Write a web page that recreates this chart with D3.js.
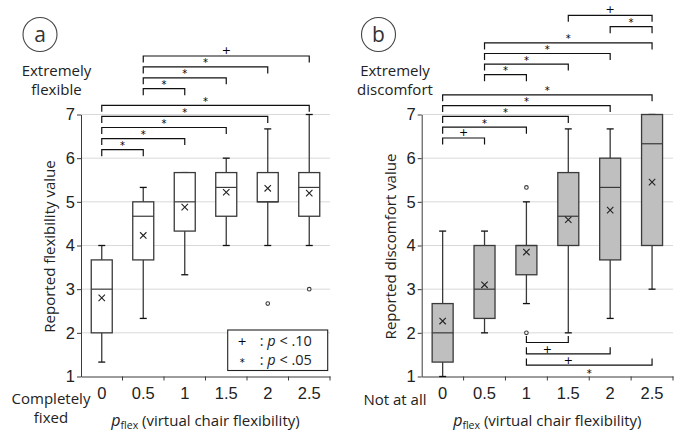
<!DOCTYPE html>
<html>
<head>
<meta charset="utf-8">
<script src="https://cdn.jsdelivr.net/npm/d3@7"></script>
<style>
  body { margin: 0; background: #fff; }
  svg { font-family: "Open Sans", "Noto Sans", sans-serif; }
  .mark { font-family: "DejaVu Sans", sans-serif; }
</style>
</head>
<body>
<svg id="chart" width="689" height="440"></svg>
<script>
// p_flex levels shared by both panels
const flexLevels = ["0", "0.5", "1", "1.5", "2", "2.5"];
const yTicks = [1, 2, 3, 4, 5, 6, 7];

// (a) reported flexibility
const flexLow    = [1.33, 2.33, 3.33, 4.00, 4.00, 4.00];
const flexQ1     = [2.00, 3.67, 4.33, 4.67, 5.00, 4.67];
const flexMedian = [3.00, 4.67, 5.00, 5.33, 5.00, 5.33];
const flexQ3     = [3.67, 5.00, 5.67, 5.67, 5.67, 5.67];
const flexHigh   = [4.00, 5.33, 5.67, 6.00, 6.67, 7.00];
const flexMean   = [2.80, 4.23, 4.88, 5.22, 5.31, 5.20];
const flexOut    = [[], [], [], [], [2.67], [3.00]];

// (b) reported discomfort
const discLow    = [1.00, 2.00, 2.67, 2.00, 2.33, 3.00];
const discQ1     = [1.33, 2.33, 3.33, 4.00, 3.67, 4.00];
const discMedian = [2.00, 3.00, 4.00, 4.67, 5.33, 6.33];
const discQ3     = [2.67, 4.00, 4.00, 5.67, 6.00, 7.00];
const discHigh   = [4.33, 4.33, 5.00, 6.67, 6.67, 7.00];
const discMean   = [2.27, 3.10, 3.85, 4.59, 4.81, 5.45];
const discOut    = [[], [], [5.33, 2.00], [], [], []];

// significance brackets [from, to, mark], grouped in stacks
const flexSig = [
  [["0", "0.5", "*"], ["0", "1", "*"], ["0", "1.5", "*"], ["0", "2", "*"], ["0", "2.5", "*"]],
  [["0.5", "1", "*"], ["0.5", "1.5", "*"], ["0.5", "2", "*"], ["0.5", "2.5", "+"]]
];
const discSig = [
  [["0", "0.5", "+"], ["0", "1", "*"], ["0", "1.5", "*"], ["0", "2", "*"], ["0", "2.5", "*"]],
  [["0.5", "1", "*"], ["0.5", "1.5", "*"], ["0.5", "2", "*"], ["0.5", "2.5", "*"]],
  [["2", "2.5", "*"], ["1.5", "2.5", "+"]]
];
const discSigBelow = [["1", "1.5", "+"], ["1", "2", "+"], ["1", "2.5", "*"]];

const svg = d3.select("#chart");
const plotTop = 114.5, plotBottom = 376.5;
const y = d3.scaleLinear().domain([1, 7]).range([plotBottom, plotTop]);
const ink = "#3a3a3a";

function stats(low, q1, med, q3, high, mean, out) {
  return flexLevels.map((k, i) => ({ k, low: low[i], q1: q1[i], med: med[i], q3: q3[i], high: high[i], mean: mean[i], out: out[i] }));
}

function drawBracket(g, x, b, yy, below) {
  const x1 = x(b[0]) + x.bandwidth() / 2, x2 = x(b[1]) + x.bandwidth() / 2;
  const t = below ? -6.5 : 6.5;
  g.append("path")
    .attr("d", `M${x1},${yy + t}V${yy}H${x2}V${yy + t}`)
    .attr("fill", "none").attr("stroke", "#111").attr("stroke-width", 1.2);
  g.append("text")
    .attr("class", "mark")
    .attr("x", (x1 + x2) / 2)
    .attr("y", below ? yy + (b[2] === "*" ? 11.5 : 10) : yy - (b[2] === "*" ? 0.5 : 2))
    .attr("text-anchor", "middle")
    .style("font-size", b[2] === "*" ? "10px" : "11px")
    .attr("fill", "#000")
    .text(b[2]);
}

function drawPanel(p) {
  const g = svg.append("g");
  const x = d3.scaleBand().domain(flexLevels).range([p.x0, p.x1]);
  const bw = 21, cap = 7;

  // grid
  g.selectAll(".grid").data(yTicks.slice(1)).enter().append("line")
    .attr("x1", p.x0).attr("x2", p.x1)
    .attr("y1", d => y(d)).attr("y2", d => y(d))
    .attr("stroke", "#d9d9d9").attr("stroke-width", 1);

  // y axis
  const ya = g.append("g").attr("transform", `translate(${p.x0},0)`)
    .call(d3.axisLeft(y).tickValues(yTicks).tickFormat(d3.format("d")).tickSize(4).tickSizeOuter(0).tickPadding(2));
  ya.selectAll("text").style("font-size", "16.5px").attr("fill", "#222");
  ya.selectAll("line, path").attr("stroke", ink);

  // x axis
  const xa = g.append("g").attr("transform", `translate(0,${plotBottom})`)
    .call(d3.axisBottom(x).tickSize(0).tickSizeOuter(0).tickPadding(11));
  xa.selectAll("text").style("font-size", "16.5px").attr("fill", "#222");
  xa.select(".domain").attr("stroke", ink);
  g.selectAll(".xtick").data(flexLevels).enter().append("line")
    .attr("x1", d => x(d) + x.bandwidth()).attr("x2", d => x(d) + x.bandwidth())
    .attr("y1", plotBottom).attr("y2", plotBottom + 4)
    .attr("stroke", ink);

  // boxes
  const box = g.selectAll(".box").data(p.data).enter().append("g")
    .attr("transform", d => `translate(${x(d.k) + x.bandwidth() / 2},0)`);
  box.append("line").attr("y1", d => y(d.q3)).attr("y2", d => y(d.high)).attr("stroke", ink).attr("stroke-width", 1.3);
  box.append("line").attr("y1", d => y(d.q1)).attr("y2", d => y(d.low)).attr("stroke", ink).attr("stroke-width", 1.3);
  box.append("line").attr("x1", -cap / 2).attr("x2", cap / 2).attr("y1", d => y(d.high)).attr("y2", d => y(d.high)).attr("stroke", "#111").attr("stroke-width", 1.3);
  box.append("line").attr("x1", -cap / 2).attr("x2", cap / 2).attr("y1", d => y(d.low)).attr("y2", d => y(d.low)).attr("stroke", "#111").attr("stroke-width", 1.3);
  box.append("rect")
    .attr("x", -bw / 2).attr("width", bw)
    .attr("y", d => y(d.q3)).attr("height", d => y(d.q1) - y(d.q3))
    .attr("fill", p.fill).attr("stroke", ink).attr("stroke-width", 1.3);
  box.append("line").attr("x1", -bw / 2).attr("x2", bw / 2).attr("y1", d => y(d.med)).attr("y2", d => y(d.med)).attr("stroke", ink).attr("stroke-width", 1.2);
  box.append("path")
    .attr("d", d => `M-3.2,${y(d.mean) - 3.2}l6.4,6.4M3.2,${y(d.mean) - 3.2}l-6.4,6.4`)
    .attr("stroke", "#222").attr("stroke-width", 1.1);
  box.each(function (d) {
    d3.select(this).selectAll("circle").data(d.out).enter().append("circle")
      .attr("cy", v => y(v)).attr("r", 1.8)
      .attr("fill", "#fff").attr("stroke", ink).attr("stroke-width", 1.1);
  });

  // significance brackets
  p.sig.forEach((grp, gi) => {
    grp.forEach((b, i) => drawBracket(g, x, b, p.sigBase[gi] - i * p.sigStep[gi], false));
  });
  (p.sigBelow || []).forEach((b, i) => drawBracket(g, x, b, p.belowBase + i * 11.3, true));

  // y title
  g.append("text")
    .attr("transform", `translate(${p.titleX},${(plotTop + plotBottom) / 2 + 1}) rotate(-90)`)
    .attr("text-anchor", "middle").style("font-size", "15px").attr("fill", "#222")
    .text(p.yTitle);

  // x title
  const xt = g.append("text")
    .attr("x", (p.x0 + p.x1) / 2).attr("y", 426)
    .attr("text-anchor", "middle").style("font-size", "15px").attr("fill", "#222");
  xt.append("tspan").style("font-style", "italic").style("font-size", "16px").text("p");
  xt.append("tspan").attr("dy", 3).style("font-size", "10.5px").text("flex");
  xt.append("tspan").attr("dy", -3).text(" (virtual chair flexibility)");

  // end labels
  p.topLabel.forEach((t, i) => g.append("text")
    .attr("x", p.labelX).attr("y", 75.5 + i * 19)
    .attr("text-anchor", "middle").style("font-size", "15px").attr("fill", "#222").text(t));
  p.bottomLabel.forEach((t, i) => g.append("text")
    .attr("x", p.bottomX).attr("y", p.bottomY + i * 19)
    .attr("text-anchor", "middle").style("font-size", "15px").attr("fill", "#222").text(t));

  // panel letter
  g.append("circle").attr("cx", p.letterX).attr("cy", 34.5).attr("r", 17)
    .attr("fill", "none").attr("stroke", "#444").attr("stroke-width", 1.1);
  g.append("text").attr("x", p.letterX).attr("y", 41.5)
    .attr("text-anchor", "middle").style("font-size", "21px").attr("fill", "#333").text(p.letter);

  return { g, x };
}

const pa = drawPanel({
  x0: 81, x1: 330, fill: "#fff",
  data: stats(flexLow, flexQ1, flexMedian, flexQ3, flexHigh, flexMean, flexOut),
  sig: flexSig, sigBase: [149.7, 88.7], sigStep: [11.1, 10.9],
  yTitle: "Reported flexibility value", titleX: 55,
  topLabel: ["Extremely", "flexible"], labelX: 56.5,
  bottomLabel: ["Completely", "fixed"], bottomX: 51, bottomY: 404,
  letter: "a", letterX: 40
});

const pb = drawPanel({
  x0: 421.7, x1: 673, fill: "#bfbfbf",
  data: stats(discLow, discQ1, discMedian, discQ3, discHigh, discMean, discOut),
  sig: discSig, sigBase: [138, 74.7, 26.7], sigStep: [10.8, 10.6, 11.4],
  sigBelow: discSigBelow, belowBase: 342.5,
  yTitle: "Reported discomfort value", titleX: 396,
  topLabel: ["Extremely", "discomfort"], labelX: 395,
  bottomLabel: ["Not at all"], bottomX: 395, bottomY: 405,
  letter: "b", letterX: 378.5
});

// legend in panel a
const lg = pa.g.append("g").attr("transform", "translate(227.7,330)");
lg.append("rect").attr("width", 100).attr("height", 40.5)
  .attr("fill", "#fff").attr("stroke", "#222").attr("stroke-width", 1.1);
[["+", ".10"], ["*", ".05"]].forEach((r, i) => {
  lg.append("text").attr("class", "mark").attr("x", 14.5).attr("y", 15 + i * 19 + (r[0] === "*" ? 2 : 0))
    .attr("text-anchor", "middle").style("font-size", r[0] === "*" ? "10px" : "11px").attr("fill", "#000").text(r[0]);
  const t = lg.append("text").attr("x", 32).attr("y", 16 + i * 19)
    .style("font-size", "14.5px").attr("fill", "#222");
  t.append("tspan").text(": ");
  t.append("tspan").style("font-style", "italic").text("p");
  t.append("tspan").text(" < " + r[1]);
});
</script>
</body>
</html>
